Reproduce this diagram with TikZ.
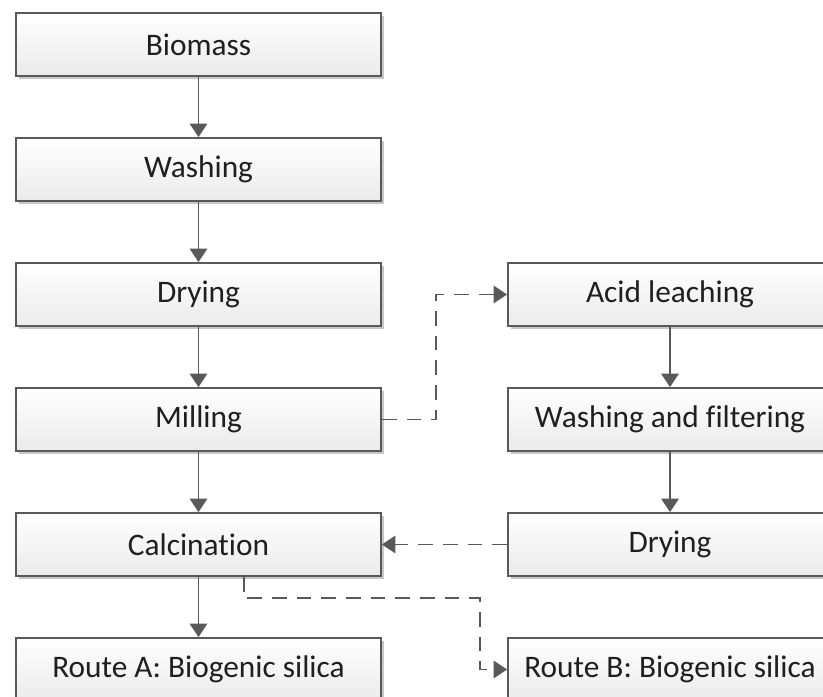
\documentclass[tikz,border=0pt]{standalone}
\usepackage{fontspec}
\setmainfont[Ligatures={NoCommon}]{Carlito}
\usetikzlibrary{arrows.meta,shadows}
\definecolor{txt}{HTML}{1F1F1F}
\definecolor{edge}{HTML}{595959}
\begin{document}
\begin{tikzpicture}[x=0.75pt,y=-0.75pt,
  box/.style={draw=edge, line width=1.4pt, top color=white, bottom color=gray!16,
    minimum height=47.25pt, text=txt, font=\fontsize{23.5}{28}\selectfont, inner sep=0pt,
    drop shadow={shadow xshift=2pt,shadow yshift=-2pt,fill=black,opacity=0.22}},
  lbox/.style={box, minimum width=273.75pt},
  rbox/.style={box, minimum width=243pt},
  arr/.style={draw=edge, line width=1.4pt, -{Triangle[width=13pt,length=10pt]}},
  darr/.style={arr, dash pattern=on 11pt off 7.5pt}
]
\clip (0,0) rectangle (823,696);
\fill[white] (0,0) rectangle (823,696);

\node[lbox] (bio)    at (198.5,44.5)  {Biomass};
\node[lbox] (wash)   at (198.5,169.5) {Washing};
\node[lbox] (dry)    at (198.5,294.5) {Drying};
\node[lbox] (mill)   at (198.5,419.5) {Milling};
\node[lbox] (calc)   at (198.5,544.5) {Calcination};
\node[lbox] (routeA) at (198.5,669.5) {Route A: Biogenic silica};

\node[rbox] (acid)   at (670,294.5) {Acid leaching};
\node[rbox] (wf)     at (670,419.5) {Washing and filtering};
\node[rbox] (dryb)   at (670,544.5) {Drying};
\node[rbox] (routeB) at (670,669.5) {Route B: Biogenic silica};

\draw[arr] (bio) -- (wash);
\draw[arr] (wash) -- (dry);
\draw[arr] (dry) -- (mill);
\draw[arr] (mill) -- (calc);
\draw[arr] (calc) -- (routeA);
\draw[arr] (acid) -- (wf);
\draw[arr] (wf) -- (dryb);

\coordinate (bendA) at (436,419.5);
\coordinate (bendB) at (480,598);
\draw[darr] (mill.east) -- (bendA) |- (acid.west);
\draw[darr] (dryb.west) -- (calc.east);
\draw[darr] ([xshift=34pt]calc.south) |- (bendB) |- (routeB.west);
\end{tikzpicture}
\end{document}
